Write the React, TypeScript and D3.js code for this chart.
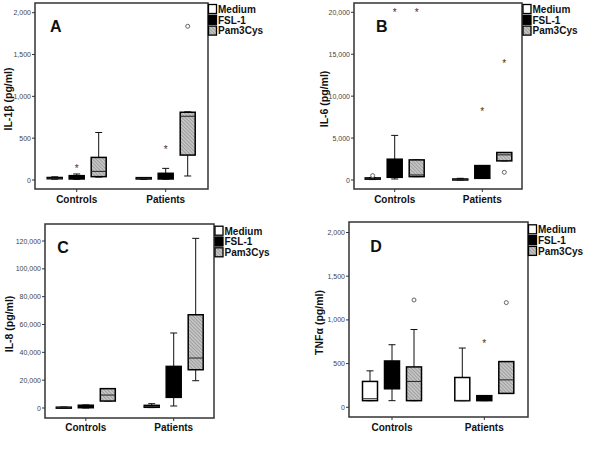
import React from "react";
import * as d3 from "d3";

const categories = ["Controls", "Patients"];
const series = ["Medium", "FSL-1", "Pam3Cys"];

// [category][series] = [min, q1, median, q3, max]
const il1bStats = [
  [[10, 15, 20, 30, 38], [8, 12, 32, 52, 72], [35, 40, 103, 270, 568]],
  [[8, 12, 20, 28, 30], [10, 12, 32, 80, 139], [48, 298, 762, 810, 815]],
];
const il1bOutliers = [
  { cat: 0, ser: 1, value: 147, kind: "star" },
  { cat: 1, ser: 1, value: 365, kind: "star" },
  { cat: 1, ser: 2, value: 1838, kind: "circle" },
];
const il1bTicks = [0, 500, 1000, 1500, 2000];

const il6Stats = [
  [[50, 100, 150, 250, 300], [120, 320, 500, 2480, 5320], [400, 400, 600, 2400, 2400]],
  [[0, 20, 60, 120, 200], [200, 200, 400, 1720, 1720], [2280, 2280, 3000, 3280, 3280]],
];
const il6Outliers = [
  { cat: 0, ser: 0, value: 520, kind: "circle" },
  { cat: 0, ser: 1, value: 20000, kind: "star" },
  { cat: 0, ser: 2, value: 20000, kind: "star" },
  { cat: 1, ser: 1, value: 8280, kind: "star" },
  { cat: 1, ser: 2, value: 13960, kind: "star" },
  { cat: 1, ser: 2, value: 920, kind: "circle" },
];
const il6Ticks = [0, 5000, 10000, 15000, 20000];

const il8Stats = [
  [[0, 100, 300, 600, 700], [0, 200, 1000, 2000, 2200], [5000, 5000, 9300, 13900, 13900]],
  [[300, 500, 1000, 1900, 3100], [1440, 7660, 15000, 29900, 53900], [19600, 27500, 35900, 67000, 121900]],
];
const il8Outliers: { cat: number; ser: number; value: number; kind: string }[] = [];
const il8Ticks = [0, 20000, 40000, 60000, 80000, 100000, 120000];

const tnfStats = [
  [[76, 76, 98, 296, 417], [76, 212, 400, 530, 716], [76, 76, 296, 462, 890]],
  [[76, 76, 76, 341, 678], [76, 76, 102, 133, 133], [159, 159, 314, 523, 523]],
];
const tnfOutliers = [
  { cat: 0, ser: 2, value: 1228, kind: "circle" },
  { cat: 1, ser: 1, value: 739, kind: "star" },
  { cat: 1, ser: 2, value: 1198, kind: "circle" },
];
const tnfTicks = [0, 500, 1000, 1500, 2000];

const FONT = "'Liberation Sans', Arial, sans-serif";
const fills = ["#ffffff", "#000000", "url(#hatch)"];
const fmt = d3.format(",");

type PanelProps = {
  letter: string;
  ylabel: string;
  stats: number[][][];
  outliers: { cat: number; ser: number; value: number; kind: string }[];
  ticks: number[];
  frame: { x0: number; x1: number; y0: number; y1: number };
  yRange: [number, number];
  xCenters: [number, number];
  letterPos: [number, number];
  ylabelX: number;
  catLabelY: number;
  legend: [number, number];
};

function Panel(p: PanelProps) {
  const y = d3.scaleLinear().domain([0, p.ticks[p.ticks.length - 1]]).range(p.yRange);
  const x = d3.scalePoint<string>().domain(categories).range(p.xCenters);
  const inner = d3.scalePoint<string>().domain(series).range([-22, 22]);
  const bw = 15;
  const capW = 7;
  const { x0, x1, y0, y1 } = p.frame;
  return (
    <g fontFamily={FONT}>
      <rect x={x0} y={y0} width={x1 - x0} height={y1 - y0} fill="white" stroke="#333" strokeWidth={1.5} />
      {p.ticks.map((t) => (
        <g key={t}>
          <line x1={x0 - 3} x2={x0} y1={y(t)} y2={y(t)} stroke="#333" strokeWidth={1} />
          <text x={x0 - 4} y={y(t) + 2.5} fontSize={7} textAnchor="end" fill="#444">
            {fmt(t)}
          </text>
        </g>
      ))}
      {categories.map((c) => (
        <g key={c}>
          <line x1={x(c)} x2={x(c)} y1={y1} y2={y1 + 3} stroke="#333" strokeWidth={1} />
          <text x={x(c)} y={p.catLabelY} fontSize={10} fontWeight="bold" textAnchor="middle" fill="#111">
            {c}
          </text>
        </g>
      ))}
      <text
        transform={`translate(${p.ylabelX},${(y0 + y1) / 2 + 3}) rotate(-90)`}
        fontSize={10.5}
        fontWeight="bold"
        textAnchor="middle"
        dominantBaseline="middle"
        fill="#111"
      >
        {p.ylabel}
      </text>
      <text x={p.letterPos[0]} y={p.letterPos[1]} fontSize={16} fontWeight="bold" textAnchor="middle" fill="#111">
        {p.letter}
      </text>
      {categories.map((c, ci) =>
        series.map((s, si) => {
          const [mn, q1, md, q3, mx] = p.stats[ci][si];
          const cx = (x(c) as number) + (inner(s) as number);
          return (
            <g key={c + s}>
              <line x1={cx} x2={cx} y1={y(mx)} y2={y(q3)} stroke="#111" strokeWidth={1} />
              <line x1={cx} x2={cx} y1={y(q1)} y2={y(mn)} stroke="#111" strokeWidth={1} />
              <line x1={cx - capW / 2} x2={cx + capW / 2} y1={y(mx)} y2={y(mx)} stroke="#111" strokeWidth={1} />
              <line x1={cx - capW / 2} x2={cx + capW / 2} y1={y(mn)} y2={y(mn)} stroke="#111" strokeWidth={1} />
              <rect
                x={cx - bw / 2}
                y={y(q3)}
                width={bw}
                height={Math.max(1, y(q1) - y(q3))}
                fill={fills[si]}
                stroke="#000"
                strokeWidth={1.5}
              />
              <line
                x1={cx - bw / 2}
                x2={cx + bw / 2}
                y1={y(md)}
                y2={y(md)}
                stroke={si === 1 ? "#000" : "#222"}
                strokeWidth={1}
              />
            </g>
          );
        })
      )}
      {p.outliers.map((o, i) => {
        const cx = (x(categories[o.cat]) as number) + (inner(series[o.ser]) as number);
        return o.kind === "circle" ? (
          <circle key={i} cx={cx} cy={y(o.value)} r={2} fill="white" stroke="#555" strokeWidth={0.9} />
        ) : (
          <text key={i} x={cx} y={y(o.value) + 4} fontSize={10} textAnchor="middle" fill="#333">
            *
          </text>
        );
      })}
      {series.map((s, si) => {
        const ly = p.legend[1] + si * 10.8;
        return (
          <g key={s}>
            <rect x={p.legend[0]} y={ly - 4.5} width={8} height={9} fill={fills[si]} stroke="#000" strokeWidth={1.3} />
            <text x={p.legend[0] + 9.5} y={ly + 3.8} fontSize={10} fontWeight="bold" fill="#111">
              {s}
            </text>
          </g>
        );
      })}
    </g>
  );
}

export default function App() {
  return (
    <svg width={600} height={450} style={{ position: "absolute", left: 0, top: 0, background: "white" }}>
      <defs>
        <pattern id="hatch" patternUnits="userSpaceOnUse" width={2.5} height={2.5} patternTransform="rotate(-45)">
          <rect width={2.5} height={2.5} fill="#c4c4c4" />
          <line x1={0} y1={0} x2={0} y2={2.5} stroke="#808080" strokeWidth={1} />
        </pattern>
      </defs>
      <Panel
        letter="A"
        ylabel="IL-1β (pg/ml)"
        stats={il1bStats}
        outliers={il1bOutliers}
        ticks={il1bTicks}
        frame={{ x0: 35, x1: 208, y0: 3, y1: 189 }}
        yRange={[180, 12.7]}
        xCenters={[76.7, 165.7]}
        letterPos={[55.7, 31.5]}
        ylabelX={9.5}
        catLabelY={202.5}
        legend={[208.5, 9]}
      />
      <Panel
        letter="B"
        ylabel="IL-6 (pg/ml)"
        stats={il6Stats}
        outliers={il6Outliers}
        ticks={il6Ticks}
        frame={{ x0: 354, x1: 522, y0: 3, y1: 189 }}
        yRange={[180, 12.3]}
        xCenters={[394.7, 482.3]}
        letterPos={[381.7, 31.5]}
        ylabelX={325}
        catLabelY={202.5}
        legend={[523, 9]}
      />
      <Panel
        letter="C"
        ylabel="IL-8 (pg/ml)"
        stats={il8Stats}
        outliers={il8Outliers}
        ticks={il8Ticks}
        frame={{ x0: 45, x1: 214, y0: 224, y1: 418 }}
        yRange={[408, 241]}
        xCenters={[85.8, 173.7]}
        letterPos={[63, 253]}
        ylabelX={10}
        catLabelY={431}
        legend={[215, 230.7]}
      />
      <Panel
        letter="D"
        ylabel="TNFα (pg/ml)"
        stats={tnfStats}
        outliers={tnfOutliers}
        ticks={tnfTicks}
        frame={{ x0: 349, x1: 528, y0: 222, y1: 417 }}
        yRange={[407.3, 232.5]}
        xCenters={[392, 484.3]}
        letterPos={[376, 252]}
        ylabelX={320.7}
        catLabelY={430.5}
        legend={[528.5, 229.3]}
      />
    </svg>
  );
}
